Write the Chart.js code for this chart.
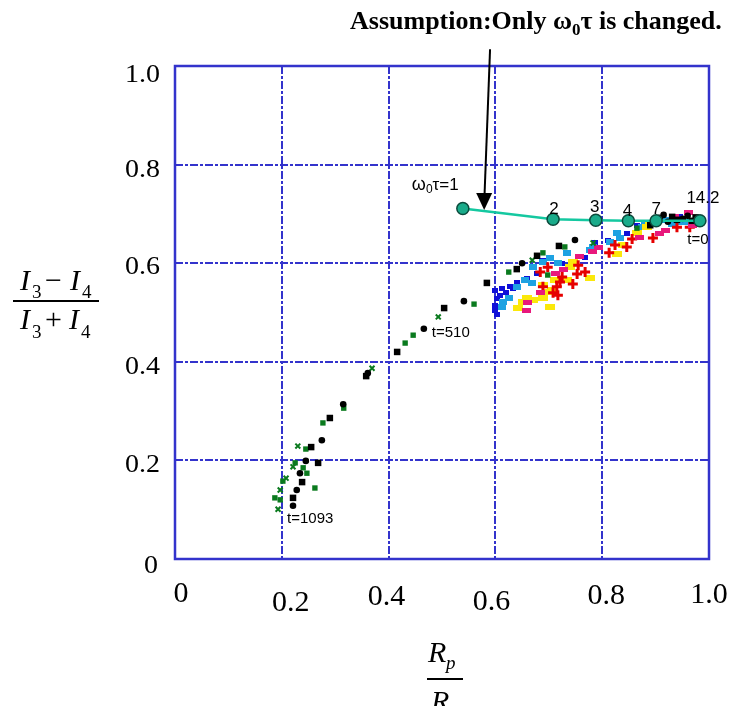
<!DOCTYPE html>
<html>
<head>
<meta charset="utf-8">
<script src="https://cdn.jsdelivr.net/npm/chart.js@4.4.0/dist/chart.umd.min.js"></script>
<style>
  html, body { margin: 0; padding: 0; background: #fff; }
  canvas { display: block; }
</style>
</head>
<body>
<canvas id="chart" width="729" height="706"></canvas>
<script>
// omega_0 * tau sweep (only omega_0 tau changed)
const tauLabels = ['1', '2', '3', '4', '7', '14.2'];
const tauX = [0.539, 0.708, 0.788, 0.849, 0.901, 0.983];
const tauY = [0.711, 0.689, 0.687, 0.686, 0.686, 0.686];

const tickValues = [0, 0.2, 0.4, 0.6, 0.8, 1.0];
const tickLabels = ['0', '0.2', '0.4', '0.6', '0.8', '1.0'];

// measured runs, [Rp/Rs, (I3-I4)/(I3+I4)]
const blackPts = [
  [0.584, 0.560], [0.541, 0.523], [0.504, 0.509], [0.466, 0.467], [0.416, 0.420],
  [0.361, 0.377], [0.358, 0.371], [0.315, 0.314], [0.290, 0.286], [0.275, 0.241],
  [0.255, 0.227], [0.245, 0.199], [0.268, 0.195], [0.234, 0.174], [0.238, 0.156],
  [0.228, 0.140], [0.221, 0.124], [0.221, 0.108], [0.719, 0.635], [0.749, 0.647],
  [0.678, 0.615], [0.650, 0.600], [0.640, 0.588], [0.908, 0.692], [0.931, 0.694],
  [0.951, 0.690], [0.968, 0.686], [0.923, 0.684], [0.890, 0.677], [0.960, 0.696],
  [0.940, 0.688], [0.915, 0.698], [0.975, 0.693]
];
const greenPts = [
  [0.560, 0.517], [0.493, 0.491], [0.446, 0.454], [0.431, 0.438], [0.369, 0.387],
  [0.316, 0.306], [0.277, 0.276], [0.230, 0.229], [0.245, 0.223], [0.225, 0.195],
  [0.221, 0.187], [0.240, 0.185], [0.247, 0.174], [0.208, 0.164], [0.202, 0.158],
  [0.262, 0.144], [0.197, 0.140], [0.187, 0.124], [0.197, 0.120], [0.193, 0.101],
  [0.689, 0.621], [0.730, 0.633], [0.669, 0.606], [0.625, 0.582], [0.698, 0.576],
  [0.783, 0.641], [0.865, 0.671]
];
const bluePts = [
  [0.599, 0.544], [0.603, 0.529], [0.599, 0.515], [0.603, 0.495], [0.609, 0.535],
  [0.627, 0.552], [0.640, 0.560], [0.659, 0.568], [0.678, 0.580], [0.689, 0.606],
  [0.725, 0.600], [0.758, 0.613], [0.768, 0.611], [0.787, 0.641], [0.811, 0.647],
  [0.846, 0.661], [0.865, 0.677], [0.946, 0.694], [0.620, 0.540], [0.633, 0.548],
  [0.600, 0.505], [0.612, 0.548], [0.905, 0.686]
];
const lightBluePts = [
  [0.614, 0.521], [0.612, 0.511], [0.640, 0.552], [0.669, 0.560], [0.670, 0.592],
  [0.689, 0.602], [0.702, 0.611], [0.717, 0.600], [0.734, 0.621], [0.777, 0.627],
  [0.783, 0.633], [0.828, 0.661], [0.833, 0.651], [0.815, 0.643], [0.875, 0.673],
  [0.880, 0.677], [0.942, 0.684], [0.918, 0.688], [0.625, 0.530], [0.655, 0.565],
  [0.930, 0.680], [0.955, 0.684]
];
const yellowPts = [
  [0.652, 0.521], [0.659, 0.529], [0.670, 0.525], [0.689, 0.529], [0.689, 0.556],
  [0.698, 0.542], [0.706, 0.546], [0.712, 0.566], [0.702, 0.511], [0.642, 0.509],
  [0.745, 0.602], [0.740, 0.592], [0.777, 0.570], [0.734, 0.566], [0.828, 0.619],
  [0.839, 0.637], [0.865, 0.661], [0.884, 0.673], [0.890, 0.682]
];
const redPts = [
  [0.698, 0.592], [0.684, 0.582], [0.755, 0.596], [0.753, 0.578], [0.768, 0.582],
  [0.745, 0.558], [0.725, 0.572], [0.721, 0.562], [0.715, 0.552], [0.708, 0.540],
  [0.717, 0.535], [0.689, 0.552], [0.813, 0.621], [0.824, 0.637], [0.846, 0.633],
  [0.856, 0.649], [0.895, 0.651], [0.940, 0.673], [0.964, 0.673]
];
const pinkPts = [
  [0.727, 0.588], [0.712, 0.580], [0.659, 0.505], [0.661, 0.521], [0.758, 0.613],
  [0.781, 0.623], [0.684, 0.540], [0.794, 0.631], [0.869, 0.653], [0.908, 0.661],
  [0.918, 0.667], [0.961, 0.702], [0.970, 0.677], [0.949, 0.688], [0.935, 0.695]
];

const BLUE = '#3333cc';
const SERIF = '"Liberation Serif", "Times New Roman", serif';
const SANS = '"Liberation Sans", Arial, sans-serif';

const toXY = pts => pts.map(([x, y]) => ({ x, y }));

// small filled blocks used as point markers
function block(w, h, color) {
  const c = document.createElement('canvas');
  c.width = w; c.height = h;
  const g = c.getContext('2d');
  g.fillStyle = color;
  g.fillRect(0, 0, w, h);
  return c;
}

// draw a run of [text, font, dy] pieces starting at x
function drawRuns(ctx, x, y, runs) {
  runs.forEach(([t, font, dy]) => {
    ctx.font = font;
    ctx.fillText(t, x, y + (dy || 0));
    x += ctx.measureText(t).width;
  });
}

const framePlugin = {
  id: 'frame',
  afterDatasetsDraw(chart) {
    const { ctx, chartArea: a } = chart;
    ctx.save();
    ctx.strokeStyle = BLUE;
    ctx.lineWidth = 2.5;
    ctx.strokeRect(a.left, a.top, a.right - a.left, a.bottom - a.top);
    ctx.restore();
  }
};

const textPlugin = {
  id: 'texts',
  afterDraw(chart) {
    const { ctx, scales: { x, y }, chartArea: a } = chart;
    ctx.save();
    ctx.fillStyle = '#000';

    // x tick labels (staggered)
    const xOff = [[6, 43], [9, 52], [-2, 46], [-4, 51], [4, 45], [0, 44]];
    ctx.font = '30px ' + SERIF;
    ctx.textAlign = 'center';
    ctx.textBaseline = 'alphabetic';
    tickValues.forEach((v, i) => {
      ctx.fillText(tickLabels[i], x.getPixelForValue(v) + xOff[i][0], a.bottom + xOff[i][1]);
    });

    // y tick labels
    const yOff = [7, 5, 6, 4, 6, 9];
    ctx.textAlign = 'right';
    ctx.textBaseline = 'middle';
    tickValues.forEach((v, i) => {
      ctx.save();
      ctx.translate(a.left - (i === 0 ? 17 : 15), y.getPixelForValue(v) + yOff[i]);
      ctx.scale(1.12, 1);
      ctx.font = '25px ' + SERIF;
      ctx.fillText(tickLabels[i], 0, 0);
      ctx.restore();
    });

    // title
    ctx.textAlign = 'left';
    ctx.textBaseline = 'alphabetic';
    const tb = 'bold 26px ' + SERIF;
    drawRuns(ctx, 350, 29, [
      ['Assumption:Only \u03c9', tb], ['0', 'bold 17px ' + SERIF, 6], ['\u03c4 is changed.', tb]
    ]);

    // y axis title: (I3 - I4) / (I3 + I4)
    const it = 'italic 30px ' + SERIF, up = '30px ' + SERIF, sb = '19px ' + SERIF;
    ctx.font = it; ctx.fillText('I', 20, 290);
    ctx.font = sb; ctx.fillText('3', 32, 298);
    ctx.font = up; ctx.fillText('\u2212', 45, 290);
    ctx.font = it; ctx.fillText('I', 70, 290);
    ctx.font = sb; ctx.fillText('4', 82, 298);
    ctx.fillRect(13, 300, 86, 2);
    ctx.font = it; ctx.fillText('I', 20, 329);
    ctx.font = sb; ctx.fillText('3', 32, 338);
    ctx.font = up; ctx.fillText('+', 45, 329);
    ctx.font = it; ctx.fillText('I', 69, 329);
    ctx.font = sb; ctx.fillText('4', 81, 338);

    // x axis title: Rp / Rs
    ctx.font = it; ctx.fillText('R', 428, 662);
    ctx.font = 'italic 19px ' + SERIF; ctx.fillText('p', 446, 669);
    ctx.fillRect(427, 678, 36, 2);
    ctx.font = it; ctx.fillText('R', 431, 711);
    ctx.font = 'italic 19px ' + SERIF; ctx.fillText('s', 449, 718);

    // omega_0 tau labels on the sweep
    const px = i => x.getPixelForValue(tauX[i]);
    const py = i => y.getPixelForValue(tauY[i]);
    drawRuns(ctx, px(0) - 51, py(0) - 18, [
      ['\u03c9', '18px ' + SANS], ['0', '12px ' + SANS, 3], ['\u03c4=' + tauLabels[0], '17px ' + SANS]
    ]);
    ctx.font = '17px ' + SANS;
    ctx.textAlign = 'center';
    const lab = [null, [1, -5], [-1, -8], [-1, -5], [0, -7], [3, -18]];
    for (let i = 1; i < tauLabels.length; i++) {
      ctx.fillText(tauLabels[i], px(i) + lab[i][0], py(i) + lab[i][1]);
    }
    ctx.font = '15px ' + SANS;
    ctx.fillText('t=0', px(5) - 2, py(5) + 23);
    ctx.textAlign = 'left';
    ctx.fillText('t=510', x.getPixelForValue(blackPts[3][0]) + 8, y.getPixelForValue(blackPts[3][1]) + 8);
    ctx.fillText('t=1093', x.getPixelForValue(blackPts[17][0]) - 6, y.getPixelForValue(blackPts[17][1]) + 17);

    // arrow pointing at the omega_0 tau = 1 end
    const x0 = x.getPixelForValue(0.590), y0 = y.getPixelForValue(1.034);
    const x1 = x.getPixelForValue(0.579), y1 = y.getPixelForValue(0.708);
    ctx.strokeStyle = '#000';
    ctx.lineWidth = 2;
    ctx.beginPath();
    ctx.moveTo(x0, y0);
    ctx.lineTo(x1 + 0.3, y1 - 14);
    ctx.stroke();
    ctx.beginPath();
    ctx.moveTo(x1, y1);
    ctx.lineTo(x1 - 8, y1 - 17);
    ctx.lineTo(x1 + 8, y1 - 17);
    ctx.closePath();
    ctx.fill();

    ctx.restore();
  }
};

const axis = {
  type: 'linear',
  min: 0,
  max: 1,
  ticks: { display: false, stepSize: 0.2 },
  grid: { color: BLUE, lineWidth: 2, drawTicks: false },
  border: { display: false, dash: [8, 2, 3, 2] }
};

new Chart(document.getElementById('chart'), {
  type: 'scatter',
  data: {
    datasets: [
      {
        type: 'line',
        label: 'omega0 tau',
        data: tauX.map((v, i) => ({ x: v, y: tauY[i] })),
        showLine: true,
        borderColor: '#14c8a0',
        borderWidth: 2.5,
        pointRadius: 6,
        pointBackgroundColor: '#1aab8a',
        pointBorderColor: '#0b4a3c',
        pointBorderWidth: 1.5
      },
      {
        label: 'black',
        data: toXY(blackPts),
        pointStyle: ctx => (ctx.dataIndex % 2 ? 'circle' : 'rect'),
        pointRadius: ctx => (ctx.dataIndex % 2 ? 3.3 : 4.6),
        backgroundColor: '#000',
        borderWidth: 0
      },
      {
        label: 'green',
        data: toXY(greenPts),
        pointStyle: ctx => (ctx.dataIndex % 3 === 1 ? 'crossRot' : 'rect'),
        pointRadius: ctx => (ctx.dataIndex % 3 === 1 ? 3.5 : 3.8),
        backgroundColor: '#0a7a1e',
        borderColor: '#0a7a1e',
        borderWidth: ctx => (ctx.dataIndex % 3 === 1 ? 2 : 0)
      },
      {
        label: 'pink',
        data: toXY(pinkPts),
        pointStyle: block(9, 5, '#e8187c'),
        pointRadius: 5
      },
      {
        label: 'red',
        data: toXY(redPts),
        pointStyle: 'cross',
        pointRadius: 5,
        borderColor: '#e60000',
        borderWidth: 3
      },
      {
        label: 'yellow',
        data: toXY(yellowPts),
        pointStyle: block(10, 6, '#fbe80a'),
        pointRadius: 5
      },
      {
        label: 'lightblue',
        data: toXY(lightBluePts),
        pointStyle: block(8, 6, '#1ea2e2'),
        pointRadius: 5
      },
      {
        label: 'blue',
        data: toXY(bluePts),
        pointStyle: block(6, 5, '#1010d8'),
        pointRadius: 4
      }
    ]
  },
  options: {
    responsive: false,
    animation: false,
    devicePixelRatio: 1,
    layout: { padding: { left: 175, top: 66, right: 20, bottom: 147 } },
    plugins: { legend: { display: false }, tooltip: { enabled: false } },
    scales: { x: axis, y: axis }
  },
  plugins: [framePlugin, textPlugin]
});
</script>
</body>
</html>
